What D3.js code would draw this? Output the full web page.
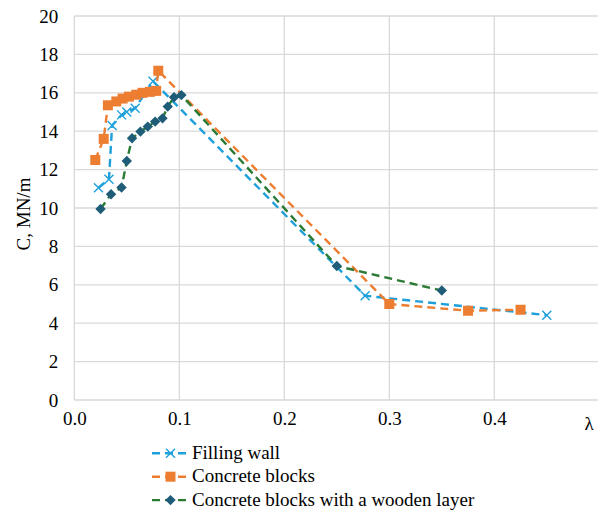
<!DOCTYPE html>
<html>
<head>
<meta charset="utf-8">
<script src="https://cdn.jsdelivr.net/npm/d3@7"></script>
<style>
  html, body { margin: 0; padding: 0; background: #fff; }
  svg { display: block; }
</style>
</head>
<body>
<svg id="chart" width="598" height="510"></svg>
<script>
// Stiffness C (MN/m) against relative displacement λ
const fillingX = [0.023, 0.033, 0.036, 0.045, 0.050, 0.058, 0.075, 0.277, 0.450];
const fillingY = [11.05, 11.5, 14.3, 14.85, 15.0, 15.2, 16.6, 5.43, 4.42];

const concreteX = [0.020, 0.028, 0.032, 0.040, 0.046, 0.052, 0.059, 0.065, 0.072, 0.078, 0.080, 0.300, 0.375, 0.425];
const concreteY = [12.5, 13.6, 15.35, 15.55, 15.7, 15.8, 15.9, 16.0, 16.05, 16.1, 17.15, 5.0, 4.65, 4.7];

const woodX = [0.025, 0.035, 0.045, 0.050, 0.055, 0.063, 0.070, 0.077, 0.084, 0.089, 0.095, 0.102, 0.250, 0.350];
const woodY = [9.95, 10.72, 11.07, 12.45, 13.63, 13.98, 14.24, 14.5, 14.67, 15.28, 15.77, 15.88, 6.98, 5.7];

const seriesNames = ["Filling wall", "Concrete blocks", "Concrete blocks with a wooden layer"];
const xTicks = [0.0, 0.1, 0.2, 0.3, 0.4];
const yTicks = [0, 2, 4, 6, 8, 10, 12, 14, 16, 18, 20];

const series = [
  { name: seriesNames[0], xs: fillingX, ys: fillingY, line: "#1fa0da", marker: "cross", fill: "#1fa0da" },
  { name: seriesNames[1], xs: concreteX, ys: concreteY, line: "#ed7d31", marker: "square", fill: "#ed7d31" },
  { name: seriesNames[2], xs: woodX, ys: woodY, line: "#2a7a33", marker: "diamond", fill: "#1e5c78" }
];

const FONT = '"Liberation Serif"';
const fs = "19px";
function setFont(sel) {
  return sel.style("font-family", FONT).style("font-size", fs).style("fill", "#000");
}

const svg = d3.select("#chart");
const x = d3.scaleLinear().domain([0, 0.5]).range([74.3, 599.3]);
const y = d3.scaleLinear().domain([0, 20]).range([400, 16]);
const grid = "#d9d9d9";

// gridlines
svg.append("g").selectAll("line").data(yTicks).join("line")
  .attr("x1", x(0)).attr("x2", 598)
  .attr("y1", d => y(d)).attr("y2", d => y(d))
  .attr("stroke", grid).attr("stroke-width", 1.3);
svg.append("g").selectAll("line").data(xTicks).join("line")
  .attr("x1", d => x(d)).attr("x2", d => x(d))
  .attr("y1", y(0)).attr("y2", y(20))
  .attr("stroke", grid).attr("stroke-width", 1.3);

// y axis labels
const yAxis = d3.axisLeft(y).tickValues(yTicks).tickSize(0).tickPadding(16).tickFormat(d3.format("d"));
const gy = svg.append("g").attr("transform", `translate(${x(0)},0)`).call(yAxis);
gy.select(".domain").remove();
setFont(gy.selectAll("text"));

// x axis labels
const xAxis = d3.axisBottom(x).tickValues(xTicks).tickSize(0).tickPadding(12).tickFormat(d3.format(".1f"));
const gx = svg.append("g").attr("transform", `translate(0,${y(0)})`).call(xAxis);
gx.select(".domain").remove();
setFont(gx.selectAll("text"));

// axis titles
setFont(svg.append("text").attr("x", 589).attr("y", 430).attr("text-anchor", "middle")).text("λ");
setFont(svg.append("text").attr("transform", "translate(30,214) rotate(-90)").attr("text-anchor", "middle"))
  .text("C, MN/m");

// marker drawing
function drawMarker(g, type, color, fill) {
  if (type === "cross") {
    g.append("path").attr("d", "M-4.5,-4.5L4.5,4.5M-4.5,4.5L4.5,-4.5")
      .attr("stroke", color).attr("stroke-width", 1.4).attr("fill", "none");
  } else if (type === "square") {
    g.append("rect").attr("x", -5).attr("y", -5).attr("width", 10).attr("height", 10)
      .attr("fill", fill);
  } else {
    g.append("path").attr("d", "M0,-5.2L5.2,0L0,5.2L-5.2,0Z").attr("fill", fill);
  }
}

const lineGen = d3.line().x(d => x(d[0])).y(d => y(d[1]));

series.forEach(s => {
  const pts = s.xs.map((v, i) => [v, s.ys[i]]);
  svg.append("path").datum(pts).attr("d", lineGen)
    .attr("fill", "none").attr("stroke", s.line).attr("stroke-width", 2.4)
    .attr("stroke-dasharray", "8,5");
  const mg = svg.append("g");
  pts.forEach(p => {
    const g = mg.append("g").attr("transform", `translate(${x(p[0])},${y(p[1])})`);
    drawMarker(g, s.marker, s.line, s.fill);
  });
});

// legend
const legend = svg.append("g");
series.forEach((s, i) => {
  const cy = 453.3 + i * 23.4;
  legend.append("line").attr("x1", 152).attr("x2", 189).attr("y1", cy).attr("y2", cy)
    .attr("stroke", s.line).attr("stroke-width", 2.4).attr("stroke-dasharray", "8,5");
  const g = legend.append("g").attr("transform", `translate(170.5,${cy})`);
  drawMarker(g, s.marker, s.line, s.fill);
  setFont(legend.append("text").attr("x", 192).attr("y", cy + 5.5)).text(s.name);
});
</script>
</body>
</html>
